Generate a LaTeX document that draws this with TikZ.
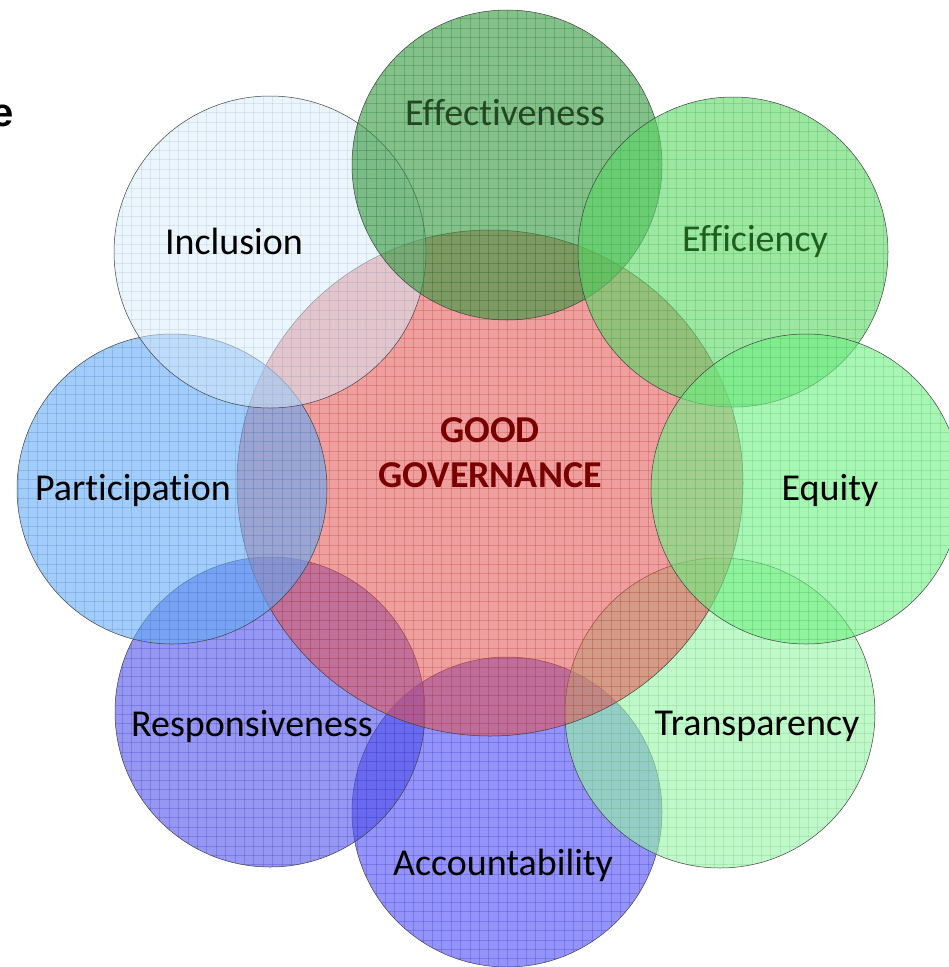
\documentclass[tikz,border=0pt]{standalone}
\usepackage{fontspec}
\setmainfont{Carlito}[Ligatures={NoCommon}]
\newfontfamily\arialfont{Liberation Sans}
\definecolor{cGood}{RGB}{228,80,80}
\definecolor{cEffect}{RGB}{50,150,60}
\definecolor{cEffic}{RGB}{90,215,100}
\definecolor{cEquity}{RGB}{110,240,130}
\definecolor{cTransp}{RGB}{150,245,165}
\definecolor{cAccount}{RGB}{75,75,245}
\definecolor{cRespons}{RGB}{80,80,235}
\definecolor{cPartic}{RGB}{100,170,245}
\definecolor{cIncl}{RGB}{215,236,253}
\definecolor{txtGood}{RGB}{120,0,0}
\newcommand\govcirc[6]{%
  \coordinate (#1) at (#3,#4);
  \fill[fill=#2, fill opacity=#6] (#1) circle (#5);
  \begin{scope}
    \clip (#1) circle (#5);
    \foreach \g in {0,9.4,...,980} {
      \draw[#2!80!black, opacity=.3, line width=0.9pt] (\g,-5) -- (\g,975);
      \draw[#2!80!black, opacity=.3, line width=0.9pt] (-5,\g) -- (955,\g);
    }
  \end{scope}
  \draw[black!75, line width=0.5pt] (#1) circle (#5);
}
\tikzset{
  lab/.style={font=\fontsize{38}{45}\selectfont, text=black, inner sep=0pt},
  goodlab/.style={font=\fontsize{38}{45}\selectfont\bfseries, text=txtGood, inner sep=0pt, align=center}
}
\begin{document}
\begin{tikzpicture}[x=1pt,y=-1pt]
\useasboundingbox (0,0) rectangle (949,967);
% lower circles
\govcirc{acc}{cAccount}{507}{812}{155}{.6}
\govcirc{res}{cRespons}{270}{712}{155}{.6}
\govcirc{tra}{cTransp}{720}{713}{155}{.6}
% central
\govcirc{good}{cGood}{490}{483}{253}{.55}
% upper circles
\govcirc{par}{cPartic}{172}{489}{155}{.6}
\govcirc{inc}{cIncl}{270}{252}{156}{.5}
\govcirc{eff}{cEffect}{507}{165}{155}{.6}
\govcirc{efc}{cEffic}{733}{252}{155}{.6}
\govcirc{equ}{cEquity}{806}{489}{155}{.6}
% labels
\node[lab, text={rgb,255:red,35;green,70;blue,35}] (tEff) at (505,113) {Effectiveness};
\node[lab, text={rgb,255:red,30;green,95;blue,30}] (tEfc) at (755,241) {Efficiency};
\node[lab] (tInc) at (234,241) {Inclusion};
\node[lab] (tPar) at (133,490) {Participation};
\node[lab] (tEqu) at (830,490) {Equity};
\node[lab] (tTra) at (757,726) {Transparency};
\node[lab] (tRes) at (252,726) {Responsiveness};
\node[lab] (tAcc) at (503,865) {Accountability};
\node[goodlab] (tGood) at (490,453) {GOOD\\GOVERNANCE};
\node[font=\arialfont\fontsize{40}{48}\selectfont\bfseries, inner sep=0pt, anchor=base east] (tE) at (14,126) {e};
\end{tikzpicture}
\end{document}
